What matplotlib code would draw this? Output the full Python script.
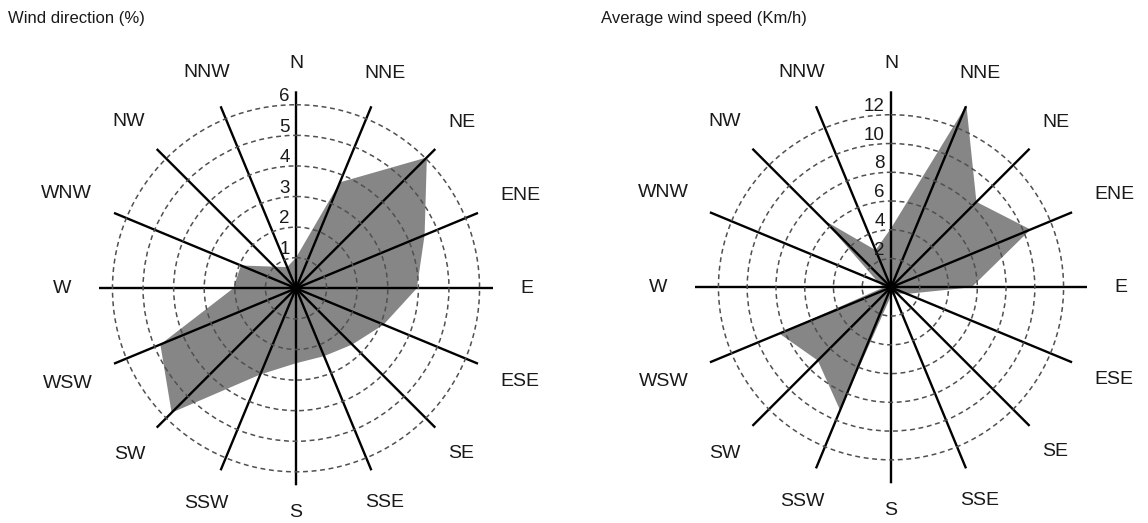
import numpy as np
import matplotlib
matplotlib.use("Agg")
import matplotlib.pyplot as plt
from matplotlib.transforms import offset_copy

plt.rcParams['font.family'] = ['Liberation Sans', 'DejaVu Sans']

# ---- data ----
directions = ['N', 'NNE', 'NE', 'ENE', 'E', 'ESE', 'SE', 'SSE',
              'S', 'SSW', 'SW', 'WSW', 'W', 'WNW', 'NW', 'NNW']
wind_direction_pct = [1.0, 3.75, 6.05, 4.55, 3.95, 3.1, 2.6, 2.4,
                      2.45, 3.05, 5.75, 4.8, 2.05, 1.95, 1.0, 0.75]
wind_speed_kmh = [4.1, 13.7, 8.4, 10.5, 5.6, 1.2, 0.6, 0.5,
                  0.6, 9.25, 7.2, 8.4, 0.5, 1.0, 6.6, 2.8]
direction_ticks = [1, 2, 3, 4, 5, 6]
speed_ticks = [2, 4, 6, 8, 10, 12]
title_direction = 'Wind direction (%)'
title_speed = 'Average wind speed (Km/h)'

W, H = 1148, 523
fig = plt.figure(figsize=(W / 100, H / 100), dpi=100)
TEXT = '#1a1a1a'


def make_rose(rect, values, rticks, rmax):
    ax = fig.add_axes(rect, projection='polar')
    ax.set_theta_zero_location('N')
    ax.set_theta_direction(-1)
    n = len(directions)
    theta = np.deg2rad(np.arange(n) * 360.0 / n)
    ax.fill(np.append(theta, theta[0]), np.append(values, values[0]),
            color='#868686', lw=0, zorder=1, clip_on=False)
    ax.set_ylim(0, rmax)
    ax.set_xticks(theta)
    ax.set_xticklabels([])
    ax.set_yticks(rticks)
    ax.set_yticklabels([])
    ax.tick_params(length=0)
    ax.set_axisbelow(False)
    ax.xaxis.grid(True, color='black', lw=1.7, ls='-')
    ax.yaxis.grid(True, color='#505050', lw=1.1, ls=(0, (3.2, 2.4)))
    ax.spines['polar'].set_visible(False)
    ax.patch.set_visible(False)
    tr = offset_copy(ax.transData, fig=fig, x=-4.5, y=6, units='points')
    for r in rticks:
        ax.text(0, r, str(r), transform=tr, ha='right', va='center',
                fontsize=13.5, color=TEXT, zorder=6)
    return ax, theta


ax1, th1 = make_rose([99 / W, 37.7 / H, 394 / W, 394 / H],
                     wind_direction_pct, direction_ticks, 6.44)
ax2, th2 = make_rose([695 / W, 39.7 / H, 392 / W, 392 / H],
                     wind_speed_kmh, speed_ticks, 13.63)

fig.text(8 / W, 1 - 18 / H, title_direction, fontsize=12, va='center',
         ha='left', color=TEXT)
fig.text(601 / W, 1 - 18 / H, title_speed, fontsize=12, va='center',
         ha='left', color=TEXT)

fig.canvas.draw()
renderer = fig.canvas.get_renderer()
for ax, theta in ((ax1, th1), (ax2, th2)):
    rmax = ax.get_ylim()[1]
    R_px = ax.get_window_extent(renderer).width / 2.0
    ppu = R_px / rmax
    gap = R_px * 1.14
    for name, th in zip(directions, theta):
        t = ax.text(th, rmax, name, ha='center', va='center', fontsize=14,
                    color=TEXT, clip_on=False)
        bb = t.get_window_extent(renderer)
        rc = gap + 0.5 * bb.width * abs(np.sin(th))
        t.set_position((th, rc / ppu))

fig.savefig('out.png', dpi=100)
